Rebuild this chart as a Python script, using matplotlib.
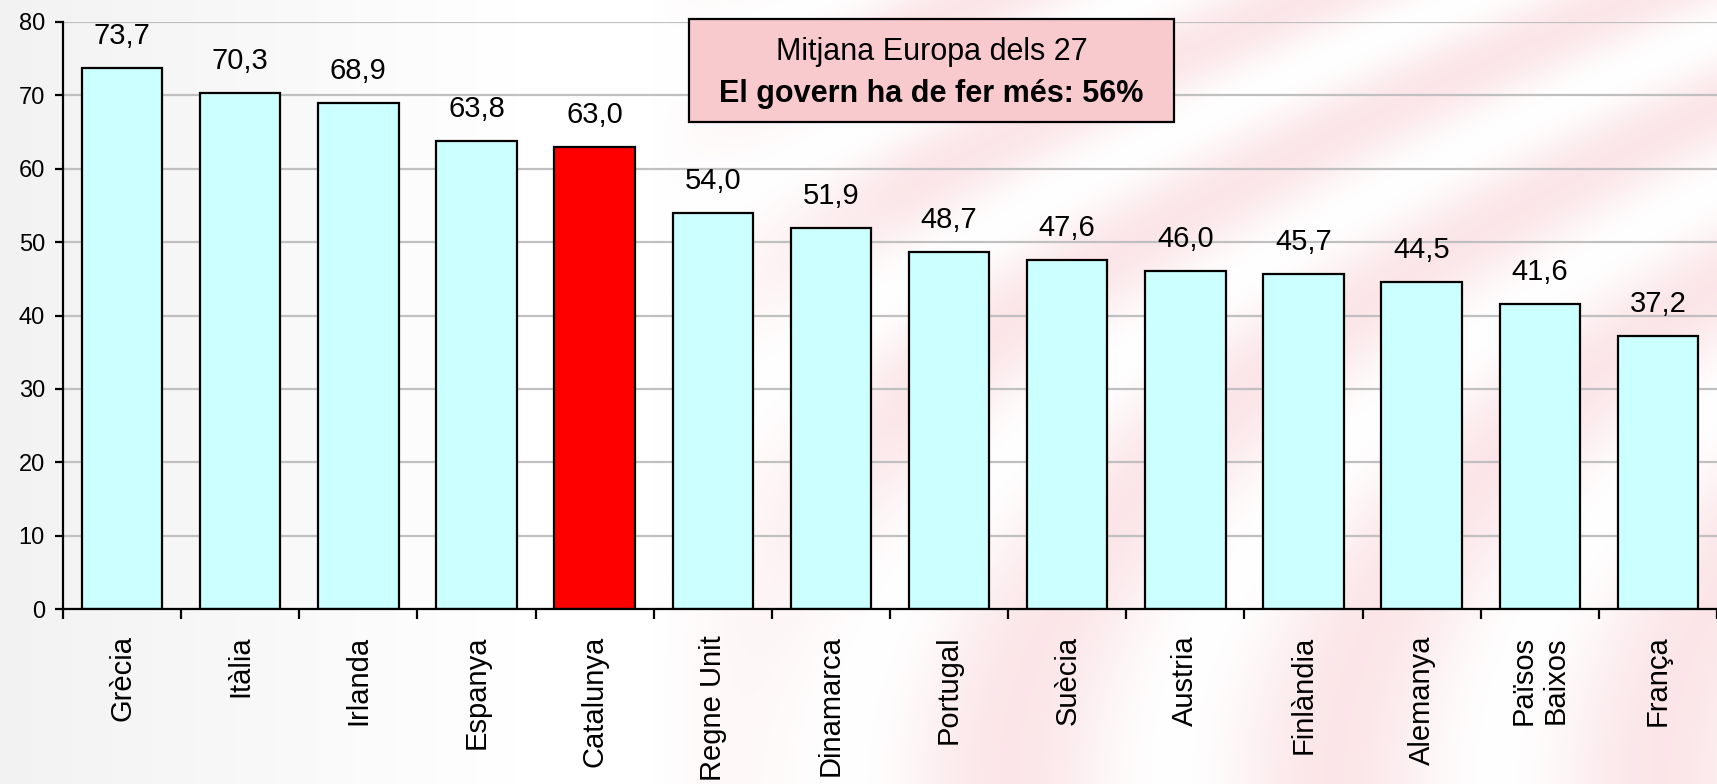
import numpy as np
import matplotlib
matplotlib.use("Agg")
import matplotlib.pyplot as plt
from matplotlib.patches import Rectangle

# ---- data ----
categories = ["Grècia", "Itàlia", "Irlanda", "Espanya", "Catalunya", "Regne Unit",
              "Dinamarca", "Portugal", "Suècia", "Austria", "Finlàndia", "Alemanya",
              "Països\nBaixos", "França"]
values = [73.7, 70.3, 68.9, 63.8, 63.0, 54.0, 51.9, 48.7, 47.6, 46.0, 45.7, 44.5, 41.6, 37.2]
highlight = "Catalunya"
yticks = [0, 10, 20, 30, 40, 50, 60, 70, 80]
box_line1 = "Mitjana Europa dels 27"
box_line2 = "El govern ha de fer més: 56%"

plt.rcParams['font.family'] = ['Liberation Sans', 'DejaVu Sans']

W, H = 1717, 784
fig = plt.figure(figsize=(W / 100, H / 100), dpi=100)
fig.patch.set_facecolor('white')

# ---- faint decorative background (blurred flag-like pink stripes) ----
bg = fig.add_axes([0, 0, 1, 1], zorder=-10)
xs = np.linspace(0, 1, 430)
ys = np.linspace(0, 1, 200)
X, Y = np.meshgrid(xs, ys)
g = X - 0.55 * Y ** 2
stripes = 0.5 + 0.5 * np.sin(2 * np.pi * g / 0.19 + 1.0)
env = np.clip((X - 0.38) / 0.15, 0, 1)
inten = env * stripes * 0.45
gray = np.clip((0.3 - X) / 0.3, 0, 1) * 0.05
img = np.ones((len(ys), len(xs), 3))
img[..., 0] = 1.0 - gray - inten * 0.03
img[..., 1] = 1.0 - gray - inten * 0.22
img[..., 2] = 1.0 - gray - inten * 0.20
bg.imshow(img, extent=[0, 1, 0, 1], origin='lower', aspect='auto', interpolation='bilinear')
bg.set_axis_off()

# ---- main axes ----
left, right = 63 / W, 1717 / W
bottom, top = 1 - 609 / H, 1 - 22 / H
ax = fig.add_axes([left, bottom, right - left, top - bottom])
ax.set_facecolor('none')

x = np.arange(len(categories))
colors = ['#FF0000' if c == highlight else '#CCFFFF' for c in categories]
ax.bar(x, values, width=0.68, color=colors, edgecolor='black', linewidth=1.6, zorder=3)

for xi, v in zip(x, values):
    ax.annotate(f"{v:.1f}".replace('.', ','), xy=(xi, v), xytext=(0, 24),
                textcoords='offset pixels', ha='center', va='baseline',
                fontsize=21, color='black', zorder=5)

ax.set_xlim(-0.5, len(categories) - 0.5)
ax.set_ylim(0, 80)
ax.set_yticks(yticks)
ax.set_yticklabels([str(t) for t in yticks], fontsize=17)
ax.yaxis.grid(True, color='#C0C0C0', linewidth=1.6, zorder=0)
ax.set_axisbelow(True)

ax.set_xticks(x)
ax.set_xticklabels(categories, rotation=90, fontsize=21, ha='center', va='top',
                   multialignment='center')
ax.set_xticks(np.arange(-0.5, len(categories), 1.0), minor=True)
ax.tick_params(axis='x', which='major', length=0, pad=19)
ax.tick_params(axis='x', which='minor', length=7, width=1.6, direction='out', color='black')
ax.tick_params(axis='y', length=6, width=1.6, direction='out', pad=7, color='black')

for s in ['top', 'right']:
    ax.spines[s].set_visible(False)
for s in ['left', 'bottom']:
    ax.spines[s].set_linewidth(1.6)
    ax.spines[s].set_color('black')
    ax.spines[s].set_zorder(4)

# ---- annotation box ----
bx0, bx1 = 689 / W, 1174 / W
by0, by1 = 1 - 122 / H, 1 - 19 / H
fig.patches.append(Rectangle((bx0, by0), bx1 - bx0, by1 - by0, transform=fig.transFigure,
                             facecolor='#F8CACE', edgecolor='black', linewidth=1.6, zorder=6))
cx = (bx0 + bx1) / 2
fig.text(cx, 1 - 52 / H, box_line1, ha='center', va='center', fontsize=22, zorder=7)
fig.text(cx, 1 - 94 / H, box_line2, ha='center', va='center', fontsize=22,
         fontweight='bold', zorder=7)

fig.savefig('out.png', dpi=100)
